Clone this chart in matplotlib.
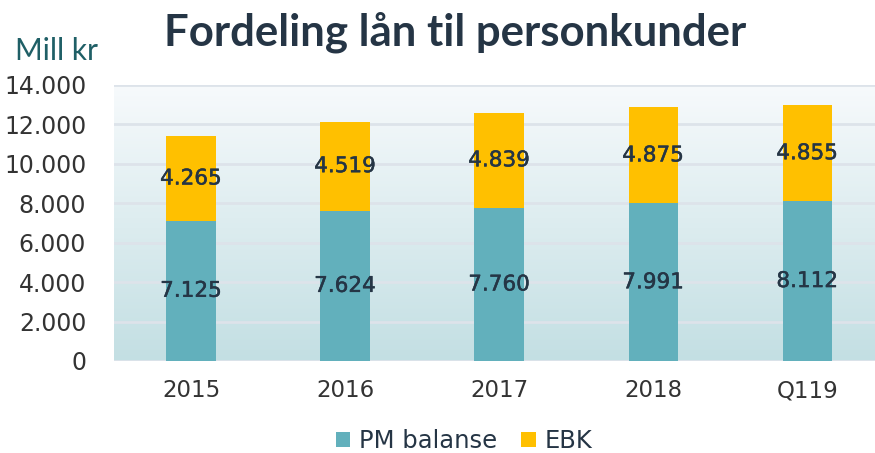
import numpy as np
import matplotlib.pyplot as plt
import matplotlib.patheffects as pe
from matplotlib.colors import LinearSegmentedColormap

categories = ['2015', '2016', '2017', '2018', 'Q119']
pm_balanse = [7125, 7624, 7760, 7991, 8112]
ebk = [4265, 4519, 4839, 4875, 4855]
yticks = [0, 2000, 4000, 6000, 8000, 10000, 12000, 14000]

teal = '#62b0bc'
gold = '#ffc000'
dark = '#253545'

def fmt(v):
    return f'{v:,}'.replace(',', '.')

fig = plt.figure(figsize=(8.75, 4.53), dpi=100)
ax = fig.add_axes([114 / 875, 1 - 361 / 453, 1 - 114 / 875, 276 / 453])

# soft vertical gradient behind the bars
grad = LinearSegmentedColormap.from_list('bg', ['#c3dfe3', '#f7fafc'])
ax.imshow(np.linspace(0, 1, 256).reshape(-1, 1), cmap=grad, origin='lower',
          extent=[0, 1, 0, 1], transform=ax.transAxes, aspect='auto', zorder=0)

x = np.arange(len(categories))
w = 0.32
ax.bar(x, pm_balanse, w, color=teal, label='PM balanse', zorder=3)
ax.bar(x, ebk, w, bottom=pm_balanse, color=gold, label='EBK', zorder=3)

bold_ish = [pe.withStroke(linewidth=0.35, foreground=dark)]
for i in range(len(categories)):
    ax.text(x[i], pm_balanse[i] / 2, fmt(pm_balanse[i]), ha='center', va='center',
            fontsize=15.5, color=dark, zorder=4, path_effects=bold_ish)
    ax.text(x[i], pm_balanse[i] + ebk[i] / 2, fmt(ebk[i]), ha='center', va='center',
            fontsize=15.5, color=dark, zorder=4, path_effects=bold_ish)

ax.set_xlim(-0.5, 4.44)
ax.set_ylim(0, 14000)
ax.set_yticks(yticks)
ax.set_yticklabels([fmt(v) for v in yticks], fontsize=17, color='#333333')
ax.set_xticks(x)
ax.set_xticklabels(categories, fontsize=16.5, color='#333333')
ax.tick_params(length=0, axis='y', pad=20)
ax.tick_params(length=0, axis='x', pad=13)
for yv in yticks:
    ax.axhline(yv, color='#dde3ea', lw=2, zorder=1)
for s in ax.spines.values():
    s.set_visible(False)

fig.text(0.52, 0.929, 'Fordeling lån til personkunder', ha='center', va='center',
         fontsize=31.5, fontweight='bold', family='Lato', color=dark)
fig.text(15 / 875, 0.888, 'Mill kr', ha='left', va='center', fontsize=21.5,
         family='Lato', color='#1f5f66')

fig.legend(loc='center', bbox_to_anchor=(0.53, 0.026), ncol=2, frameon=False,
           fontsize=17.5, handlelength=0.6, handleheight=0.6, handletextpad=0.35,
           columnspacing=1.0, labelcolor=dark)

fig.savefig('out.png', dpi=100)
